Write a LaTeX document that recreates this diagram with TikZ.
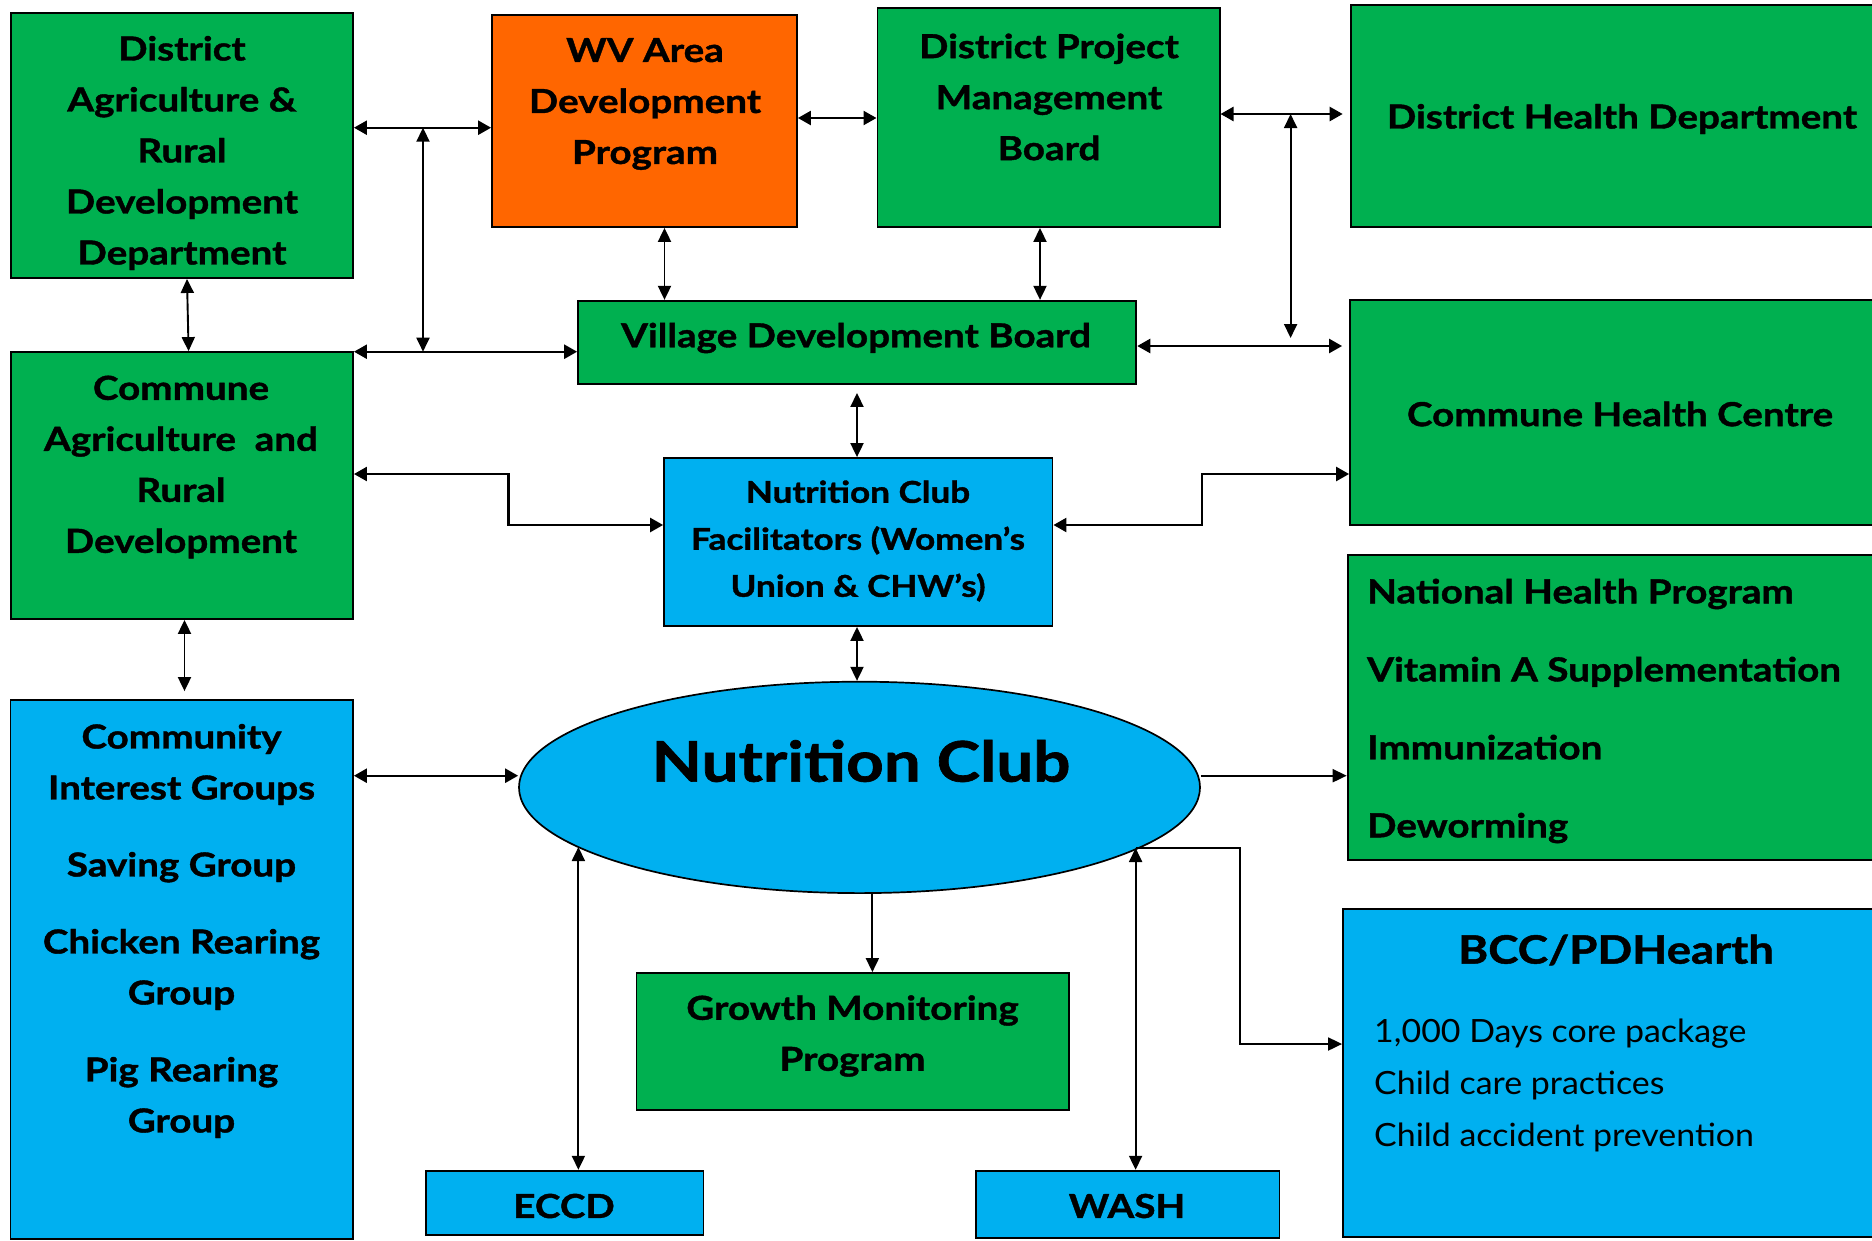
\documentclass[tikz,border=0pt]{standalone}
\usepackage{fontspec}
\setmainfont{Lato}[BoldFeatures={FakeStretch=1.17,FakeBold=1.2},UprightFeatures={FakeStretch=1.06}]
\usetikzlibrary{arrows.meta,shapes.geometric}
\definecolor{cgreen}{HTML}{00B050}
\definecolor{corange}{HTML}{FF6600}
\definecolor{cblue}{HTML}{00B0F0}
\tikzset{
  box/.style={draw=black, line width=1.8pt, inner sep=0pt, align=center},
  gbox/.style={box, fill=cgreen},
  bbox/.style={box, fill=cblue},
  obox/.style={box, fill=corange},
  txt/.style={inner sep=0pt, align=center, font=\fontsize{33}{51}\selectfont\bfseries},
  ltxt/.style={inner sep=0pt, align=left, anchor=west, font=\fontsize{33}{51}\selectfont\bfseries},
  dthick/.style={line width=2.4pt, {Triangle[length=13pt,width=14pt]}-{Triangle[length=13pt,width=14pt]}},
  dthin/.style={line width=1.9pt, {Triangle[length=14pt,width=13pt]}-{Triangle[length=14pt,width=13pt]}},
  sthin/.style={line width=1.9pt, -{Triangle[length=14pt,width=13pt]}},
}
\begin{document}
\begin{tikzpicture}[x=1pt,y=-1pt]
\useasboundingbox (0,0) rectangle (1872,1240);
\clip (0,0) rectangle (1872,1240);
\fill[white] (0,0) rectangle (1872,1240);
% boxes
\node[gbox, minimum width=342.3pt, minimum height=265.3pt] (da) at (181.9,145.4) {};
\node[obox, minimum width=305pt, minimum height=212pt] (wv) at (644.5,121) {};
\node[gbox, minimum width=342.2pt, minimum height=218.7pt] (dp) at (1048.5,117.7) {};
\node[gbox, minimum width=542.4pt, minimum height=222pt] (dh) at (1621.8,116) {};
\node[gbox, minimum width=558.3pt, minimum height=83.3pt] (vdb) at (857.2,342.4) {};
\node[gbox, minimum width=543pt, minimum height=225pt] (chc) at (1621.5,412.5) {};
\node[gbox, minimum width=342.3pt, minimum height=267pt] (cm) at (181.9,485.5) {};
\node[bbox, minimum width=388.5pt, minimum height=168pt] (ncf) at (858.3,542) {};
\node[gbox, minimum width=545.4pt, minimum height=305pt] (nhp) at (1620.3,707.5) {};
\node[bbox, minimum width=342.5pt, minimum height=539pt] (cig) at (181.75,969.5) {};
\node[gbox, minimum width=432.1pt, minimum height=137pt] (gmp) at (852.55,1041.5) {};
\node[bbox, minimum width=277.4pt, minimum height=64.3pt] (eccd) at (564.7,1202.85) {};
\node[bbox, minimum width=303.8pt, minimum height=67.3pt] (wash) at (1127.5,1204.35) {};
\node[bbox, minimum width=550pt, minimum height=327.7pt] (bcc) at (1618,1073.15) {};
\node[ellipse, draw=black, line width=1.7pt, fill=cblue, inner sep=0pt, minimum width=681pt, minimum height=211.4pt] (nc) at (859.5,787.4) {};
% texts
\node[txt] (da-t) at (182,153) {District\\Agriculture \&\\Rural\\Development\\Department};
\node[txt] (wv-t) at (645,104) {WV Area\\Development\\Program};
\node[txt] (dp-t) at (1049,97) {District Project\\Management\\Board};
\node[txt] (dh-t) at (1622,119) {District Health Department};
\node[txt] (vdb-t) at (856,338) {Village Development Board};
\node[txt] (chc-t) at (1620,414) {Commune Health Centre};
\node[txt] (cm-t) at (181,467) {Commune\\Agriculture\ \ and\\Rural\\Development};
\node[txt, font=\fontsize{30}{47}\selectfont\bfseries] (ncf-t) at (858,541) {Nutrition Club\\Facilitators (Women’s\\Union \& CHW’s)};
\node[ltxt, font=\fontsize{33}{78}\selectfont\bfseries] (nhp-t) at (1367,711) {National Health Program\\Vitamin A Supplementation\\Immunization\\Deworming};
\node[txt] (cig-t) at (181.5,931) {Community\\Interest Groups\\[26pt]Saving Group\\[26pt]Chicken Rearing\\Group\\[26pt]Pig Rearing\\Group};
\node[txt] (gmp-t) at (852.5,1036) {Growth Monitoring\\Program};
\node[txt] (eccd-t) at (564,1206) {ECCD};
\node[txt] (wash-t) at (1127,1206) {WASH};
\node[txt, font=\fontsize{39}{51}\selectfont\bfseries] (bcc-t) at (1616,950) {BCC/PDHearth};
\node[ltxt, font=\fontsize{32}{52}\selectfont] (bcc-l) at (1374,1085) {1,000 Days core package\\Child care practices\\Child accident prevention};
\node[txt, font=\fontsize{56}{60}\selectfont\bfseries] (nc-t) at (861,761) {Nutrition Club};
% junction coordinates
\coordinate (j1) at (423,127.7);
\coordinate (j2) at (423,351.7);
\coordinate (j3) at (1290.6,114);
\coordinate (j4) at (1290.6,338);
\coordinate (e1) at (578.4,847);
\coordinate (e2) at (1135.6,848);
% connectors
\draw[dthick] (da.east |- 0,127.7) -- (wv.west |- 0,127.7);
\draw[dthin] (j1) -- (j2);
\draw[dthick] (wv.east |- 0,118) -- (dp.west |- 0,118);
\draw[dthick] (dp.east |- 0,114) -- ([xshift=-7pt]dh.west |- 0,114);
\draw[dthin] (j3) -- (j4);
\draw[dthin] (wv.south -| 664.5,0) -- (vdb.north -| 664.5,0);
\draw[dthin] (dp.south -| 1040,0) -- (vdb.north -| 1040,0);
\draw[dthin] (da.south -| 187,0) -- (cm.north -| 188.6,0);
\draw[dthick] (cm.east |- 0,351.7) -- (vdb.west |- 0,351.7);
\draw[dthick] (vdb.east |- 0,346) -- ([xshift=-7pt]chc.west |- 0,346);
\draw[dthin] ([yshift=-8pt]vdb.south -| 857,0) -- (ncf.north -| 857,0);
\draw[dthick] (cm.east |- 0,474) -| (508.6,525) -- (ncf.west |- 0,525);
\draw[dthick] (ncf.east |- 0,525) -| (1202,474) -- (chc.west |- 0,474);
\draw[dthin] (ncf.south -| 857,0) -- (nc.north -| 857,0);
\draw[dthin] (cm.south -| 184.5,0) -- ([yshift=8pt]cig.north -| 184.5,0);
\draw[dthick] (cig.east |- 0,775.7) -- (nc.west |- 0,775.7);
\draw[sthin] (nc.east |- 0,775.7) -- (nhp.west |- 0,775.7);
\draw[sthin] (nc.south -| 872.4,0) -- (gmp.north -| 872.4,0);
\draw[dthin] (e1) -- (eccd.north -| 578.4,0);
\draw[dthin] (e2) -- (wash.north -| 1135.6,0);
\draw[sthin] (e2) -| (1240,1044) -- (bcc.west |- 0,1044);
\end{tikzpicture}
\end{document}
